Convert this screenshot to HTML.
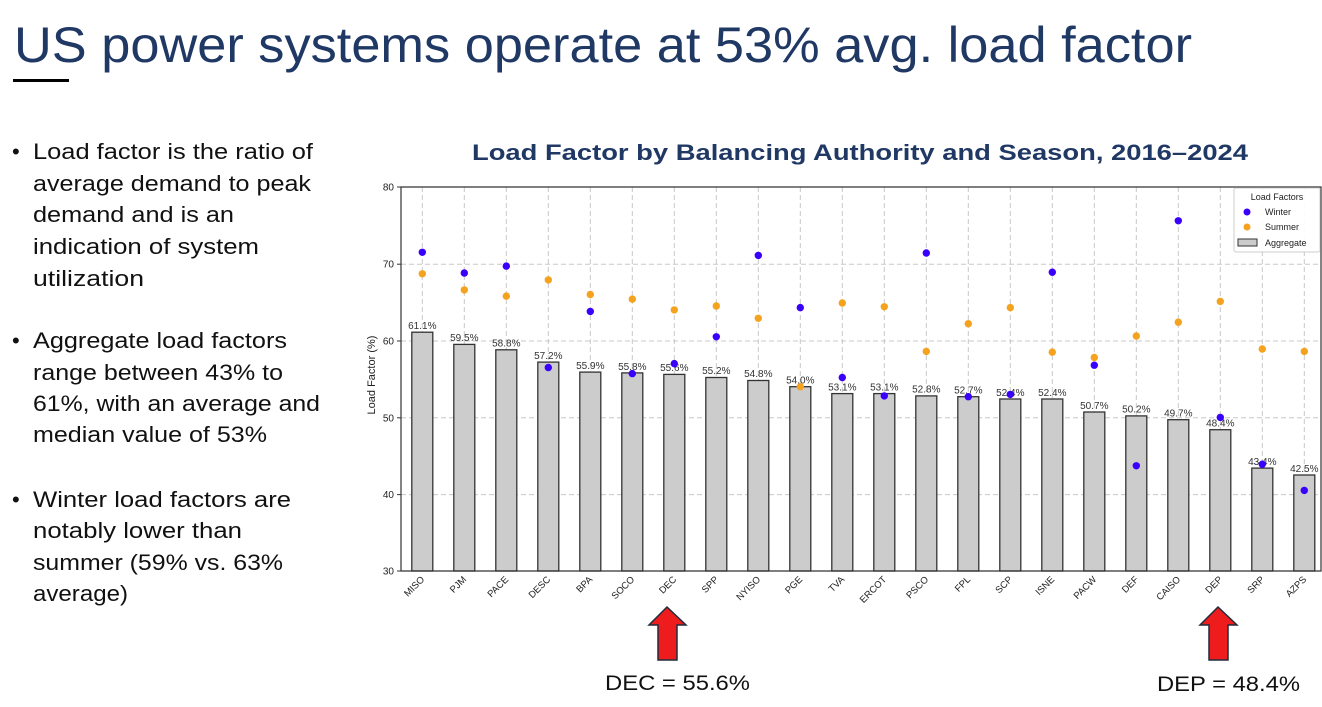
<!DOCTYPE html>
<html><head><meta charset="utf-8"><style>
html,body{margin:0;padding:0;background:#fff;}
svg{display:block;font-family:"Liberation Sans",sans-serif;}
</style></head><body>
<svg width="1322" height="707" viewBox="0 0 1322 707">
<rect width="1322" height="707" fill="#fff"/>
<text x="14" y="62" font-size="50" fill="#1f3864" textLength="1178" lengthAdjust="spacingAndGlyphs">US power systems operate at 53% avg. load factor</text>
<rect x="13" y="79" width="56" height="3" fill="#000"/>
<g font-size="22" fill="#111">
<text x="12" y="159">•</text>
<text x="33" y="159" textLength="280" lengthAdjust="spacingAndGlyphs">Load factor is the ratio of</text>
<text x="33" y="191" textLength="278" lengthAdjust="spacingAndGlyphs">average demand to peak</text>
<text x="33" y="222" textLength="201" lengthAdjust="spacingAndGlyphs">demand and is an</text>
<text x="33" y="254" textLength="226" lengthAdjust="spacingAndGlyphs">indication of system</text>
<text x="33" y="286" textLength="111" lengthAdjust="spacingAndGlyphs">utilization</text>
<text x="12" y="348">•</text>
<text x="33" y="348" textLength="254" lengthAdjust="spacingAndGlyphs">Aggregate load factors</text>
<text x="33" y="380" textLength="250" lengthAdjust="spacingAndGlyphs">range between 43% to</text>
<text x="33" y="411" textLength="287" lengthAdjust="spacingAndGlyphs">61%, with an average and</text>
<text x="33" y="442" textLength="234" lengthAdjust="spacingAndGlyphs">median value of 53%</text>
<text x="12" y="507">•</text>
<text x="33" y="507" textLength="258" lengthAdjust="spacingAndGlyphs">Winter load factors are</text>
<text x="33" y="538" textLength="209" lengthAdjust="spacingAndGlyphs">notably lower than</text>
<text x="33" y="570" textLength="250" lengthAdjust="spacingAndGlyphs">summer (59% vs. 63%</text>
<text x="33" y="601" textLength="95" lengthAdjust="spacingAndGlyphs">average)</text>
</g>
<text x="472" y="160" font-size="22" font-weight="bold" fill="#1f3864" textLength="776" lengthAdjust="spacingAndGlyphs">Load Factor by Balancing Authority and Season, 2016–2024</text>

<g stroke="#c8c8c8" stroke-width="1" stroke-dasharray="5,3">
<line x1="401" x2="1321" y1="187" y2="187"/><line x1="401" x2="1321" y1="264.2" y2="264.2"/><line x1="401" x2="1321" y1="341" y2="341"/><line x1="401" x2="1321" y1="417.8" y2="417.8"/><line x1="401" x2="1321" y1="494.6" y2="494.6"/>
<line x1="422.3" x2="422.3" y1="187" y2="571"/><line x1="464.3" x2="464.3" y1="187" y2="571"/><line x1="506.3" x2="506.3" y1="187" y2="571"/><line x1="548.3" x2="548.3" y1="187" y2="571"/><line x1="590.3" x2="590.3" y1="187" y2="571"/><line x1="632.3" x2="632.3" y1="187" y2="571"/><line x1="674.3" x2="674.3" y1="187" y2="571"/><line x1="716.3" x2="716.3" y1="187" y2="571"/><line x1="758.3" x2="758.3" y1="187" y2="571"/><line x1="800.3" x2="800.3" y1="187" y2="571"/><line x1="842.3" x2="842.3" y1="187" y2="571"/><line x1="884.3" x2="884.3" y1="187" y2="571"/><line x1="926.3" x2="926.3" y1="187" y2="571"/><line x1="968.3" x2="968.3" y1="187" y2="571"/><line x1="1010.3" x2="1010.3" y1="187" y2="571"/><line x1="1052.3" x2="1052.3" y1="187" y2="571"/><line x1="1094.3" x2="1094.3" y1="187" y2="571"/><line x1="1136.3" x2="1136.3" y1="187" y2="571"/><line x1="1178.3" x2="1178.3" y1="187" y2="571"/><line x1="1220.3" x2="1220.3" y1="187" y2="571"/><line x1="1262.3" x2="1262.3" y1="187" y2="571"/><line x1="1304.3" x2="1304.3" y1="187" y2="571"/>
</g>

<g fill="#cccccc" stroke="#333" stroke-width="1.3">
<rect x="411.8" y="332.2" width="21" height="238.8"/>
<rect x="453.8" y="344.4" width="21" height="226.6"/>
<rect x="495.8" y="349.8" width="21" height="221.2"/>
<rect x="537.8" y="362.1" width="21" height="208.9"/>
<rect x="579.8" y="372.1" width="21" height="198.9"/>
<rect x="621.8" y="372.9" width="21" height="198.1"/>
<rect x="663.8" y="374.4" width="21" height="196.6"/>
<rect x="705.8" y="377.5" width="21" height="193.5"/>
<rect x="747.8" y="380.5" width="21" height="190.5"/>
<rect x="789.8" y="386.7" width="21" height="184.3"/>
<rect x="831.8" y="393.6" width="21" height="177.4"/>
<rect x="873.8" y="393.6" width="21" height="177.4"/>
<rect x="915.8" y="395.9" width="21" height="175.1"/>
<rect x="957.8" y="396.7" width="21" height="174.3"/>
<rect x="999.8" y="399" width="21" height="172"/>
<rect x="1041.8" y="399" width="21" height="172"/>
<rect x="1083.8" y="412" width="21" height="159"/>
<rect x="1125.8" y="415.9" width="21" height="155.1"/>
<rect x="1167.8" y="419.7" width="21" height="151.3"/>
<rect x="1209.8" y="429.7" width="21" height="141.3"/>
<rect x="1251.8" y="468.1" width="21" height="102.9"/>
<rect x="1293.8" y="475" width="21" height="96"/>
</g>

<g font-size="10" fill="#333" text-anchor="middle">
<text x="422.3" y="329">61.1%</text><text x="464.3" y="341">59.5%</text><text x="506.3" y="346.5">58.8%</text><text x="548.3" y="359">57.2%</text><text x="590.3" y="369">55.9%</text><text x="632.3" y="370">55.8%</text><text x="674.3" y="371">55.6%</text><text x="716.3" y="374">55.2%</text><text x="758.3" y="377">54.8%</text><text x="800.3" y="383.5">54.0%</text><text x="842.3" y="390.5">53.1%</text><text x="884.3" y="390.5">53.1%</text><text x="926.3" y="392.5">52.8%</text><text x="968.3" y="393.5">52.7%</text><text x="1010.3" y="396">52.4%</text><text x="1052.3" y="396">52.4%</text><text x="1094.3" y="409">50.7%</text><text x="1136.3" y="412.5">50.2%</text><text x="1178.3" y="416.5">49.7%</text><text x="1220.3" y="426.5">48.4%</text><text x="1262.3" y="465">43.4%</text><text x="1304.3" y="472">42.5%</text>
</g>

<g fill="#f5a31f">
<circle cx="422.3" cy="273.8" r="3.7"/><circle cx="464.3" cy="289.9" r="3.7"/><circle cx="506.3" cy="296.1" r="3.7"/><circle cx="548.3" cy="279.9" r="3.7"/><circle cx="590.3" cy="294.5" r="3.7"/><circle cx="632.3" cy="299.1" r="3.7"/><circle cx="674.3" cy="309.9" r="3.7"/><circle cx="716.3" cy="306" r="3.7"/><circle cx="758.3" cy="318.3" r="3.7"/><circle cx="800.3" cy="386.7" r="3.7"/><circle cx="842.3" cy="303" r="3.7"/><circle cx="884.3" cy="306.8" r="3.7"/><circle cx="926.3" cy="351.4" r="3.7"/><circle cx="968.3" cy="323.7" r="3.7"/><circle cx="1010.3" cy="307.6" r="3.7"/><circle cx="1052.3" cy="352.1" r="3.7"/><circle cx="1094.3" cy="357.5" r="3.7"/><circle cx="1136.3" cy="336" r="3.7"/><circle cx="1178.3" cy="322.2" r="3.7"/><circle cx="1220.3" cy="301.4" r="3.7"/><circle cx="1262.3" cy="349" r="3.7"/><circle cx="1304.3" cy="351.4" r="3.7"/>
</g>
<g fill="#3a00ff">
<circle cx="422.3" cy="252.3" r="3.7"/><circle cx="464.3" cy="273" r="3.7"/><circle cx="506.3" cy="266.1" r="3.7"/><circle cx="548.3" cy="367.5" r="3.7"/><circle cx="590.3" cy="311.4" r="3.7"/><circle cx="632.3" cy="373.6" r="3.7"/><circle cx="674.3" cy="363.6" r="3.7"/><circle cx="716.3" cy="336.8" r="3.7"/><circle cx="758.3" cy="255.4" r="3.7"/><circle cx="800.3" cy="307.6" r="3.7"/><circle cx="842.3" cy="377.5" r="3.7"/><circle cx="884.3" cy="395.9" r="3.7"/><circle cx="926.3" cy="253" r="3.7"/><circle cx="968.3" cy="396.7" r="3.7"/><circle cx="1010.3" cy="394.4" r="3.7"/><circle cx="1052.3" cy="272.2" r="3.7"/><circle cx="1094.3" cy="365.2" r="3.7"/><circle cx="1136.3" cy="465.8" r="3.7"/><circle cx="1178.3" cy="220.8" r="3.7"/><circle cx="1220.3" cy="417.4" r="3.7"/><circle cx="1262.3" cy="464.2" r="3.7"/><circle cx="1304.3" cy="490.4" r="3.7"/>
</g>

<path d="M401 187 V571 H1321 V187 Z" fill="none" stroke="#333" stroke-width="1.2"/>
<g stroke="#333" stroke-width="1">
<line x1="397" x2="401" y1="187" y2="187"/><line x1="397" x2="401" y1="264.2" y2="264.2"/><line x1="397" x2="401" y1="341" y2="341"/><line x1="397" x2="401" y1="417.8" y2="417.8"/><line x1="397" x2="401" y1="494.6" y2="494.6"/><line x1="397" x2="401" y1="571" y2="571"/>
</g>
<g font-size="10" fill="#222" text-anchor="end">
<text x="394" y="190.5">80</text><text x="394" y="267.7">70</text><text x="394" y="344.5">60</text><text x="394" y="421.3">50</text><text x="394" y="498.1">40</text><text x="394" y="574.5">30</text>
</g>
<text transform="translate(375,375) rotate(-90)" font-size="11" fill="#222" text-anchor="middle">Load Factor (%)</text>

<g font-size="9.5" fill="#222" text-anchor="end">
<text transform="translate(425,580) rotate(-45)">MISO</text>
<text transform="translate(467,580) rotate(-45)">PJM</text>
<text transform="translate(509,580) rotate(-45)">PACE</text>
<text transform="translate(551,580) rotate(-45)">DESC</text>
<text transform="translate(593,580) rotate(-45)">BPA</text>
<text transform="translate(635,580) rotate(-45)">SOCO</text>
<text transform="translate(677,580) rotate(-45)">DEC</text>
<text transform="translate(719,580) rotate(-45)">SPP</text>
<text transform="translate(761,580) rotate(-45)">NYISO</text>
<text transform="translate(803,580) rotate(-45)">PGE</text>
<text transform="translate(845,580) rotate(-45)">TVA</text>
<text transform="translate(887,580) rotate(-45)">ERCOT</text>
<text transform="translate(929,580) rotate(-45)">PSCO</text>
<text transform="translate(971,580) rotate(-45)">FPL</text>
<text transform="translate(1013,580) rotate(-45)">SCP</text>
<text transform="translate(1055,580) rotate(-45)">ISNE</text>
<text transform="translate(1097,580) rotate(-45)">PACW</text>
<text transform="translate(1139,580) rotate(-45)">DEF</text>
<text transform="translate(1181,580) rotate(-45)">CAISO</text>
<text transform="translate(1223,580) rotate(-45)">DEP</text>
<text transform="translate(1265,580) rotate(-45)">SRP</text>
<text transform="translate(1307,580) rotate(-45)">AZPS</text>
</g>

<rect x="1234" y="188" width="86" height="64" rx="2" fill="#fff" fill-opacity="0.9" stroke="#ccc"/>
<text x="1277" y="200" font-size="9" fill="#222" text-anchor="middle">Load Factors</text>
<circle cx="1247" cy="212" r="3.5" fill="#3a00ff"/><text x="1265" y="215" font-size="9" fill="#222">Winter</text>
<circle cx="1247" cy="227" r="3.5" fill="#f5a31f"/><text x="1265" y="230" font-size="9" fill="#222">Summer</text>
<rect x="1238" y="239" width="19" height="7" fill="#ccc" stroke="#333"/><text x="1265" y="246" font-size="9" fill="#222">Aggregate</text>

<path d="M667 607 L686 625 L677 625 L677 660 L658 660 L658 625 L649 625 Z" fill="#ee1c1c" stroke="#1f2d3d" stroke-width="1.5"/>
<path d="M1218 607 L1237 625 L1228 625 L1228 660 L1209 660 L1209 625 L1200 625 Z" fill="#ee1c1c" stroke="#1f2d3d" stroke-width="1.5"/>
<text x="605" y="690" font-size="21" fill="#111" textLength="145" lengthAdjust="spacingAndGlyphs">DEC = 55.6%</text>
<text x="1157" y="691" font-size="21" fill="#111" textLength="143" lengthAdjust="spacingAndGlyphs">DEP = 48.4%</text>
</svg>
</body></html>
